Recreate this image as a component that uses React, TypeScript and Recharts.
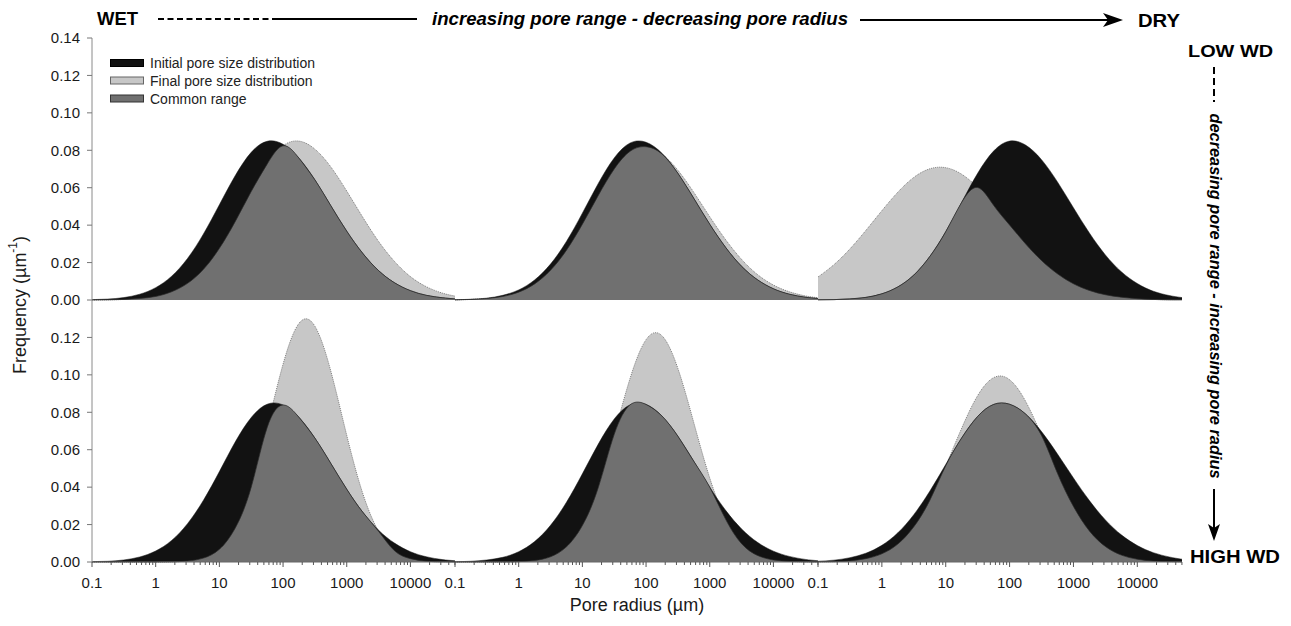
import { Area, ComposedChart, XAxis, YAxis } from "recharts";

// sample positions, log10 of pore radius (µm)
const LOG_R = [-1, -0.75, -0.5, -0.25, 0, 0.25, 0.5, 0.75, 1, 1.25, 1.5, 1.75, 2, 2.25, 2.5, 2.75, 3, 3.25, 3.5, 3.75, 4, 4.25, 4.5, 4.7];

// low WD row
const TL_INITIAL = [0.0002, 0.0005, 0.0013, 0.0031, 0.0066, 0.0127, 0.0222, 0.0353, 0.0509, 0.0665, 0.0789, 0.0848, 0.0832, 0.0758, 0.0642, 0.0504, 0.0368, 0.025, 0.0157, 0.0092, 0.005, 0.0025, 0.0012, 0.0006];
const TL_FINAL = [0, 0.0001, 0.0003, 0.0008, 0.0019, 0.0044, 0.0089, 0.0164, 0.0276, 0.042, 0.058, 0.0726, 0.0824, 0.0849, 0.0806, 0.0711, 0.0582, 0.0443, 0.0313, 0.0206, 0.0125, 0.0071, 0.0037, 0.0021];
const TM_INITIAL = [0.0001, 0.0004, 0.001, 0.0025, 0.0054, 0.0107, 0.0192, 0.0313, 0.0464, 0.0623, 0.0759, 0.0839, 0.0843, 0.0784, 0.0677, 0.0543, 0.0405, 0.0281, 0.018, 0.0108, 0.006, 0.0031, 0.0015, 0.0008];
const TM_FINAL = [0.0001, 0.0003, 0.0008, 0.0019, 0.0042, 0.0086, 0.0159, 0.0266, 0.0405, 0.0559, 0.07, 0.0795, 0.0819, 0.078, 0.0693, 0.0575, 0.0445, 0.0322, 0.0217, 0.0136, 0.008, 0.0044, 0.0022, 0.0012];
const TR_INITIAL = [0.0001, 0.0002, 0.0006, 0.0014, 0.0033, 0.007, 0.0133, 0.0232, 0.0365, 0.0522, 0.0677, 0.0796, 0.0849, 0.0828, 0.075, 0.0631, 0.0493, 0.0358, 0.0241, 0.0151, 0.0088, 0.0047, 0.0024, 0.0013];
const TR_FINAL = [0.0123, 0.0189, 0.0273, 0.0372, 0.0477, 0.0576, 0.0655, 0.0701, 0.0707, 0.0672, 0.0601, 0.0506, 0.0401, 0.03, 0.0211, 0.014, 0.0087, 0.0051, 0.0028, 0.0015, 0.0007, 0.0003, 0.0001, 0.0001];

// high WD row
const BL_INITIAL = [0.0002, 0.0004, 0.0011, 0.0027, 0.0059, 0.0115, 0.0205, 0.033, 0.0483, 0.0642, 0.0772, 0.0843, 0.0839, 0.0773, 0.0662, 0.0527, 0.0389, 0.0267, 0.017, 0.0101, 0.0055, 0.0028, 0.0013, 0.0007];
const BL_FINAL = [0, 0, 0, 0, 0, 0.0001, 0.0005, 0.0021, 0.0068, 0.0182, 0.04, 0.0718, 0.1057, 0.1275, 0.126, 0.102, 0.0677, 0.0368, 0.0164, 0.006, 0.0018, 0.0004, 0.0001, 0];
const BM_INITIAL = [0.0001, 0.0004, 0.0011, 0.0025, 0.0055, 0.0109, 0.0196, 0.0319, 0.0471, 0.063, 0.0764, 0.084, 0.0842, 0.078, 0.0672, 0.0538, 0.04, 0.0276, 0.0177, 0.0105, 0.0058, 0.003, 0.0014, 0.0007];
const BM_FINAL = [0, 0, 0, 0, 0.0002, 0.0008, 0.0028, 0.0081, 0.0195, 0.0398, 0.0682, 0.0982, 0.1188, 0.1209, 0.1034, 0.0744, 0.0449, 0.0228, 0.0098, 0.0035, 0.0011, 0.0003, 0.0001, 0];
const BR_INITIAL = [0.0004, 0.001, 0.0023, 0.0047, 0.0089, 0.0156, 0.0253, 0.0378, 0.0521, 0.0663, 0.0778, 0.0842, 0.0843, 0.0791, 0.0697, 0.0577, 0.0449, 0.0328, 0.0225, 0.0145, 0.0088, 0.005, 0.0027, 0.0015];
const BR_FINAL = [0.0001, 0.0002, 0.0006, 0.0018, 0.0044, 0.0096, 0.0188, 0.0329, 0.0514, 0.0715, 0.0889, 0.0985, 0.0974, 0.0859, 0.0676, 0.0474, 0.0297, 0.0166, 0.0083, 0.0037, 0.0015, 0.0005, 0.0002, 0.0001];

const MAJOR_TICKS = [-1, 0, 1, 2, 3, 4];
const MAJOR_LABELS = ["0.1", "1", "10", "100", "1000", "10000"];
const MINOR_STEPS = [2, 3, 4, 5, 6, 7, 8, 9];
const Y_TICKS_TOP = [0, 0.02, 0.04, 0.06, 0.08, 0.1, 0.12, 0.14];
const Y_TICKS_BOTTOM = [0, 0.02, 0.04, 0.06, 0.08, 0.1, 0.12];

const X_MAX = 4.7;
const X_TICKS = [
  ...MAJOR_TICKS,
  ...MAJOR_TICKS.flatMap((d) => MINOR_STEPS.map((k) => d + Math.log10(k))),
]
  .filter((v) => v <= X_MAX)
  .sort((a, b) => a - b);

const PANELS = [
  { row: 0, col: 0, initial: TL_INITIAL, final: TL_FINAL },
  { row: 0, col: 1, initial: TM_INITIAL, final: TM_FINAL },
  { row: 0, col: 2, initial: TR_INITIAL, final: TR_FINAL },
  { row: 1, col: 0, initial: BL_INITIAL, final: BL_FINAL },
  { row: 1, col: 1, initial: BM_INITIAL, final: BM_FINAL },
  { row: 1, col: 2, initial: BR_INITIAL, final: BR_FINAL },
];

const COL_LEFT = [92, 455, 818];
const COL_WIDTH = [363, 363, 364];
const ROW_TOP = [38, 300];
const PLOT_H = 262;
const M = 14;

const BLACK = "#121212";
const LIGHT = "#c7c7c7";
const COMMON = "#707070";
const FRAME = "#8a8a8a";
const DIVIDER = "#3c3c3c";
const FONT = "'Liberation Sans', Arial, sans-serif";

function RadiusTick(props: any) {
  const { x, y, payload } = props;
  const idx = MAJOR_TICKS.findIndex((t) => Math.abs(t - payload.value) < 1e-9);
  const major = idx >= 0;
  return (
    <g>
      <line x1={x} x2={x} y1={y} y2={y + (major ? 5 : 3)} stroke="#555" strokeWidth={1} />
      {major && (
        <text x={x} y={y + 26} textAnchor="middle" fontSize={15} fill="#1a1a1a">
          {MAJOR_LABELS[idx]}
        </text>
      )}
    </g>
  );
}

function Panel({ row, col, initial, final }: { row: number; col: number; initial: number[]; final: number[] }) {
  const data = LOG_R.map((lr, i) => ({
    lr,
    initial: initial[i],
    final: final[i],
    common: Math.min(initial[i], final[i]),
  }));
  const yAxisW = col === 0 ? 92 : 0;
  const xAxisH = row === 1 ? 40 : 0;
  const width = yAxisW + COL_WIDTH[col] + 2 * M;
  const height = PLOT_H + xAxisH + 2 * M;
  return (
    <div style={{ position: "absolute", left: COL_LEFT[col] - yAxisW - M, top: ROW_TOP[row] - M }}>
      <ComposedChart width={width} height={height} data={data} margin={{ top: M, right: M, bottom: M, left: M }}>
        <XAxis
          dataKey="lr"
          type="number"
          domain={[-1, X_MAX]}
          ticks={row === 1 ? X_TICKS : []}
          interval={0}
          height={xAxisH}
          tick={row === 1 ? <RadiusTick /> : false}
          tickLine={false}
          tickSize={0}
          tickMargin={0}
          axisLine={{ stroke: row === 1 ? "#666" : FRAME }}
        />
        {row === 0 && (
          <XAxis
            xAxisId="top"
            orientation="top"
            dataKey="lr"
            type="number"
            domain={[-1, X_MAX]}
            height={0}
            tick={false}
            tickLine={false}
            axisLine={{ stroke: FRAME }}
          />
        )}
        <YAxis
          type="number"
          domain={[0, 0.14]}
          ticks={col === 0 ? (row === 0 ? Y_TICKS_TOP : Y_TICKS_BOTTOM) : []}
          interval={0}
          width={yAxisW}
          tick={col === 0 ? { fontSize: 15, fill: "#1a1a1a" } : false}
          tickFormatter={(v: number) => v.toFixed(2)}
          tickLine={col === 0 ? { stroke: "#777" } : false}
          tickSize={5}
          tickMargin={7}
          axisLine={{ stroke: col === 0 ? FRAME : DIVIDER }}
        />
        {col === 2 && (
          <YAxis
            yAxisId="right"
            orientation="right"
            type="number"
            domain={[0, 0.14]}
            width={0}
            tick={false}
            tickLine={false}
            axisLine={{ stroke: FRAME }}
          />
        )}
        <Area
          dataKey="final"
          type="natural"
          fill={LIGHT}
          fillOpacity={1}
          stroke="#7d7d7d"
          strokeWidth={1}
          strokeDasharray="1 1"
          dot={false}
          activeDot={false}
          isAnimationActive={false}
        />
        <Area
          dataKey="initial"
          type="natural"
          fill={BLACK}
          fillOpacity={1}
          stroke={BLACK}
          strokeWidth={0.5}
          dot={false}
          activeDot={false}
          isAnimationActive={false}
        />
        <Area
          dataKey="common"
          type="natural"
          fill={COMMON}
          fillOpacity={1}
          stroke="#2a2a2a"
          strokeWidth={0.7}
          dot={false}
          activeDot={false}
          isAnimationActive={false}
        />
      </ComposedChart>
    </div>
  );
}

const LEGEND = [
  { label: "Initial pore size distribution", fill: BLACK, stroke: "#000" },
  { label: "Final pore size distribution", fill: LIGHT, stroke: "#666" },
  { label: "Common range", fill: COMMON, stroke: "#333" },
];
const LEGEND_ROWS = [63, 80.5, 98.5];

function Annotations() {
  return (
    <svg
      width={1291}
      height={626}
      style={{ position: "absolute", left: 0, top: 0, pointerEvents: "none", fontFamily: FONT }}
    >
      {LEGEND.map((l, i) => (
        <g key={l.label}>
          <rect x={110.5} y={LEGEND_ROWS[i] - 3.5} width={33} height={7} fill={l.fill} stroke={l.stroke} strokeWidth={1} />
          <text x={150} y={LEGEND_ROWS[i] + 5} fontSize={14} fill="#222">
            {l.label}
          </text>
        </g>
      ))}

      {/* top direction arrow */}
      <text x={97} y={25} fontSize={18} fontWeight="bold" textLength={41} lengthAdjust="spacingAndGlyphs">
        WET
      </text>
      <line x1={158} x2={275} y1={19} y2={19} stroke="#000" strokeWidth={2} strokeDasharray="6 3.5" />
      <line x1={275} x2={417} y1={19} y2={19} stroke="#000" strokeWidth={2} />
      <text
        x={432}
        y={25}
        fontSize={18}
        fontWeight="bold"
        fontStyle="italic"
        textLength={416}
        lengthAdjust="spacingAndGlyphs"
      >
        increasing pore range - decreasing pore radius
      </text>
      <line x1={860} x2={1112} y1={20} y2={20} stroke="#000" strokeWidth={2} />
      <polygon points="1123,20 1103,13 1108,20 1103,27" fill="#000" />
      <text x={1138} y={27} fontSize={18} fontWeight="bold" textLength={42} lengthAdjust="spacingAndGlyphs">
        DRY
      </text>

      {/* right direction arrow */}
      <text x={1188} y={57} fontSize={17} fontWeight="bold" textLength={85} lengthAdjust="spacingAndGlyphs">
        LOW WD
      </text>
      <line x1={1214} x2={1214} y1={67} y2={102} stroke="#000" strokeWidth={2} strokeDasharray="7 4" />
      <text
        x={1215}
        y={296}
        fontSize={16}
        fontWeight="bold"
        fontStyle="italic"
        textAnchor="middle"
        dominantBaseline="central"
        textLength={365}
        lengthAdjust="spacingAndGlyphs"
        transform="rotate(90 1215 296)"
      >
        decreasing pore range - increasing pore radius
      </text>
      <line x1={1214} x2={1214} y1={489} y2={530} stroke="#000" strokeWidth={2} />
      <polygon points="1214,541 1208,524 1214,528 1220,524" fill="#000" />
      <text x={1190} y={563} fontSize={18} fontWeight="bold" textLength={90} lengthAdjust="spacingAndGlyphs">
        HIGH WD
      </text>

      {/* axis titles */}
      <text x={637} y={611} fontSize={18} textAnchor="middle" fill="#1a1a1a">
        Pore radius (µm)
      </text>
      <text
        x={20}
        y={305}
        fontSize={18}
        textAnchor="middle"
        dominantBaseline="central"
        fill="#1a1a1a"
        transform="rotate(-90 20 305)"
      >
        Frequency (µm
        <tspan dy={-7} fontSize={12}>
          -1
        </tspan>
        <tspan dy={7}>)</tspan>
      </text>
    </svg>
  );
}

export default function App() {
  return (
    <div
      style={{
        position: "absolute",
        left: 0,
        top: 0,
        width: 1291,
        height: 626,
        background: "#fff",
        fontFamily: FONT,
        overflow: "hidden",
      }}
    >
      {PANELS.map((p) => (
        <Panel key={`${p.row}-${p.col}`} {...p} />
      ))}
      <Annotations />
    </div>
  );
}
